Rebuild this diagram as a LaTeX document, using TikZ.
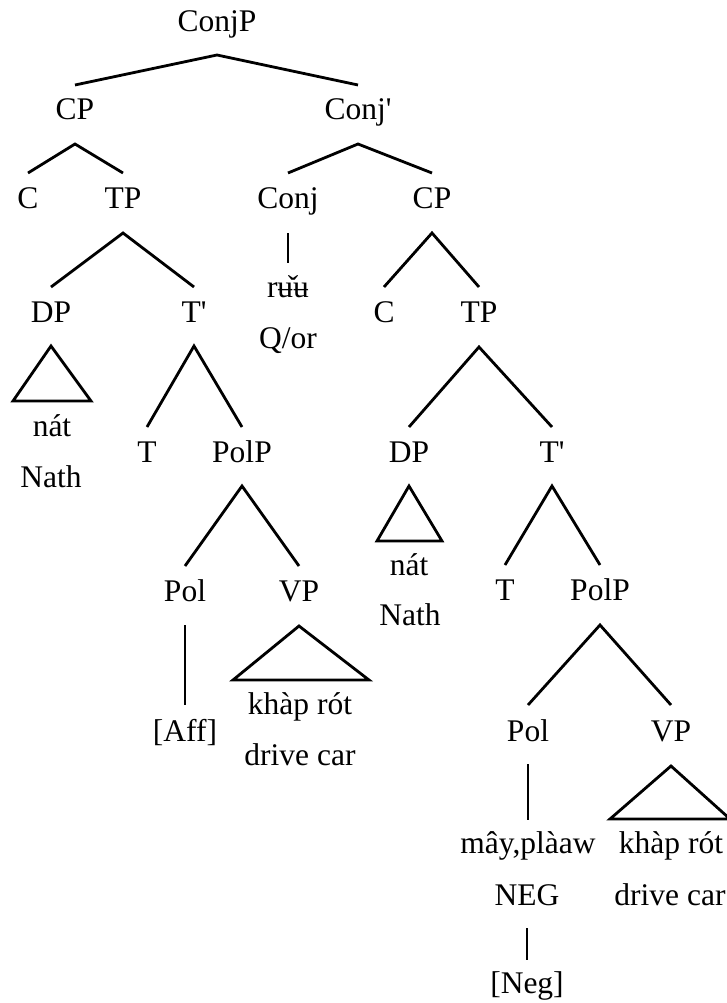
\documentclass[tikz,border=0pt]{standalone}
\usepackage{fontspec}
\setmainfont{Liberation Serif}
\newfontfamily\tnr{Liberation Serif}
\begin{document}
\begin{tikzpicture}[x=1pt,y=1pt,
  lbl/.style={inner sep=0pt, anchor=base, font=\tnr\fontsize{31.5}{37}\selectfont},
  br/.style={line width=2.8pt, line join=miter, line cap=butt}]
\useasboundingbox (0,0) rectangle (727,-1003);
% labels
\node[lbl] (conjp) at (217,-32) {ConjP};
\node[lbl] (cp1) at (75,-120) {CP};
\node[lbl] (conjbar) at (358,-120) {Conj'};
\node[lbl] (c1) at (28,-208) {C};
\node[lbl] (tp1) at (123,-208) {TP};
\node[lbl] (conj) at (288,-208) {Conj};
\node[lbl] (cp2) at (432,-208) {CP};
\node[lbl] (ruu) at (288,-297) {rʉ̌ʉ};
\node[lbl] (qor) at (288,-348) {Q/or};
\node[lbl] (dp1) at (51,-322) {DP};
\node[lbl] (tbar1) at (194,-322) {T'};
\node[lbl] (c2) at (384,-322) {C};
\node[lbl] (tp2) at (479,-322) {TP};
\node[lbl] (nat1) at (52,-436) {nát};
\node[lbl] (nath1) at (51,-487) {Nath};
\node[lbl] (t1) at (147,-462) {T};
\node[lbl] (polp1) at (242,-462) {PolP};
\node[lbl] (dp2) at (409,-462) {DP};
\node[lbl] (tbar2) at (552,-462) {T'};
\node[lbl] (nat2) at (409,-575) {nát};
\node[lbl] (nath2) at (410,-625) {Nath};
\node[lbl] (pol1) at (185,-601) {Pol};
\node[lbl] (vp1) at (299,-601) {VP};
\node[lbl] (t2) at (505,-600) {T};
\node[lbl] (polp2) at (600,-600) {PolP};
\node[lbl] (khap1) at (300,-714) {khàp rót};
\node[lbl] (drive1) at (300,-765) {drive car};
\node[lbl] (aff) at (185,-741) {[Aff]};
\node[lbl] (pol2) at (528,-741) {Pol};
\node[lbl] (vp2) at (671,-741) {VP};
\node[lbl] (may) at (528,-853) {mây,plàaw};
\node[lbl] (khap2) at (671,-853) {khàp rót};
\node[lbl] (neg) at (527,-905) {NEG};
\node[lbl] (drive2) at (670,-905) {drive car};
\node[lbl] (negf) at (527,-993) {[Neg]};
% branches
\draw[br] ([yshift=35pt]cp1.base) -- ([yshift=-23pt]conjp.base) -- ([yshift=35pt]conjbar.base);
\draw[br] ([yshift=35pt]c1.base) -- ([yshift=-24pt]cp1.base) -- ([yshift=35pt]tp1.base);
\draw[br] ([yshift=35pt]conj.base) -- ([yshift=-24pt]conjbar.base) -- ([yshift=35pt]cp2.base);
\draw[br] ([yshift=-25pt]conj.base) -- ([yshift=34pt]ruu.base);
\draw[br] ([yshift=35pt]dp1.base) -- ([yshift=-25pt]tp1.base) -- ([yshift=35pt]tbar1.base);
\draw[br] ([yshift=35pt]c2.base) -- ([yshift=-25pt]cp2.base) -- ([yshift=35pt]tp2.base);
\draw[br] ([yshift=-24pt]dp1.base) -- ([shift={(-39pt,35pt)}]nat1.base) -- ([shift={(39pt,35pt)}]nat1.base) -- cycle;
\draw[br] ([yshift=35pt]t1.base) -- ([yshift=-24pt]tbar1.base) -- ([yshift=35pt]polp1.base);
\draw[br] ([yshift=35pt]dp2.base) -- ([yshift=-25pt]tp2.base) -- ([yshift=35pt]tbar2.base);
\draw[br] ([yshift=35pt]pol1.base) -- ([yshift=-24pt]polp1.base) -- ([yshift=35pt]vp1.base);
\draw[br] ([yshift=-24pt]dp2.base) -- ([shift={(-32pt,34pt)}]nat2.base) -- ([shift={(33pt,34pt)}]nat2.base) -- cycle;
\draw[br] ([yshift=35pt]t2.base) -- ([yshift=-24pt]tbar2.base) -- ([yshift=35pt]polp2.base);
\draw[br] ([yshift=-24pt]pol1.base) -- ([yshift=36pt]aff.base);
\draw[br] ([yshift=-25pt]vp1.base) -- ([shift={(-67pt,34pt)}]khap1.base) -- ([shift={(69pt,34pt)}]khap1.base) -- cycle;
\draw[br] ([yshift=36pt]pol2.base) -- ([yshift=-25pt]polp2.base) -- ([yshift=36pt]vp2.base);
\draw[br] ([yshift=-23pt]pol2.base) -- ([yshift=33pt]may.base);
\draw[br] ([yshift=-25pt]vp2.base) -- ([shift={(-61pt,34pt)}]khap2.base) -- ([shift={(59pt,34pt)}]khap2.base) -- cycle;
\draw[br] ([yshift=-23pt]neg.base) -- ([yshift=33pt]negf.base);
\end{tikzpicture}
\end{document}
